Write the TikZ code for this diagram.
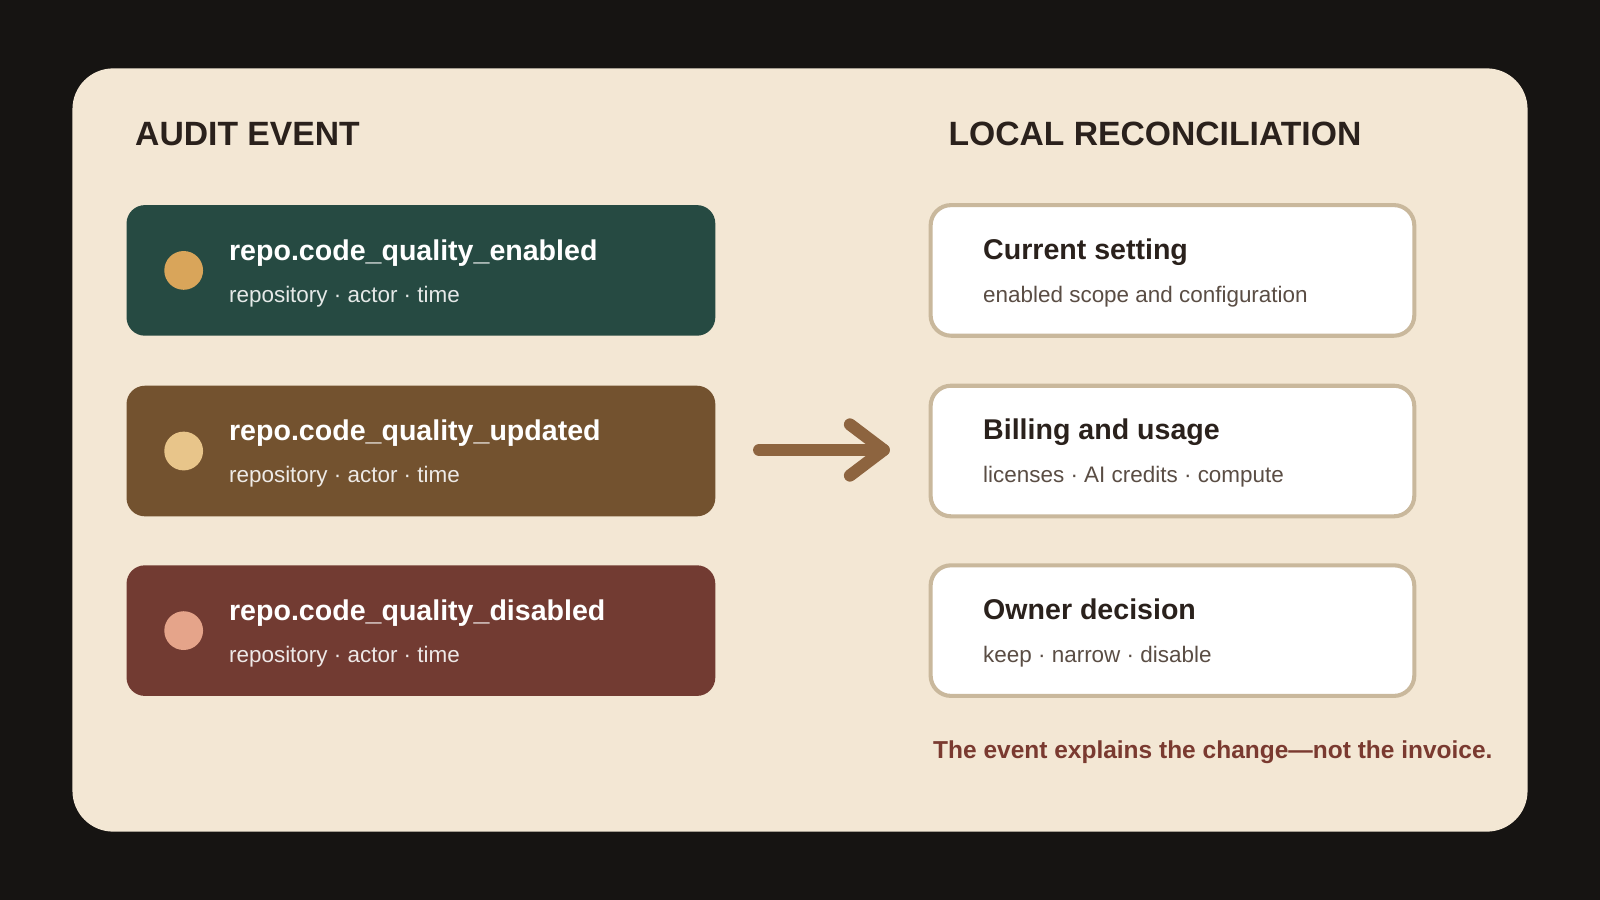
\documentclass[tikz,border=0pt]{standalone}
\usepackage{fontspec}
\setmainfont{Liberation Sans}
\begin{document}
\begin{tikzpicture}[x=1pt,y=-1pt,
  lbox/.style={rounded corners=18pt,draw=none},
  rbox/.style={rounded corners=20pt,draw=bord,line width=4pt,fill=white},
  ttl/.style={anchor=base west,font=\fontsize{28}{30}\selectfont\bfseries},
  sub/.style={anchor=base west,font=\fontsize{22}{24}\selectfont},
  hd/.style={anchor=base west,font=\fontsize{33}{36}\selectfont\bfseries,text=dark}]
\definecolor{bg}{HTML}{161412}
\definecolor{card}{HTML}{F3E7D4}
\definecolor{bord}{HTML}{C9B89C}
\definecolor{dark}{HTML}{2A211C}
\definecolor{gr}{HTML}{5A4D44}
\definecolor{arr}{HTML}{8D643F}
\definecolor{foot}{HTML}{7A3A30}
\useasboundingbox (0,0) rectangle (1568,882);
\fill[bg] (0,0) rectangle (1568,882);
\fill[card,rounded corners=40pt] (71,67) rectangle (1497,815);
\node[hd] (h1) at (129,143) {AUDIT EVENT};
\node[hd] (h2) at (926,143) {LOCAL RECONCILIATION};
\foreach \y/\c/\d/\t [count=\i] in {201/264A42/D9A55A/enabled,378/73522F/E8C58A/updated,554/723B32/E5A48A/disabled}{
  \definecolor{bc}{HTML}{\c}\definecolor{dc}{HTML}{\d}
  \fill[lbox,bc] (124,\y) rectangle (701,\y+128);
  \fill[dc] (180,\y+64) circle (19);
  \node[ttl,text=white] (l\i) at (221,\y+54) {repo.code\_quality\_\t};
  \node[sub,text=white!88!bc] (s\i) at (221,\y+95) {repository · actor · time};
}
\foreach \y/\a/\b [count=\i] in {201/Current setting/enabled scope and configuration,378/Billing and usage/licenses · AI credits · compute,554/Owner decision/keep · narrow · disable}{
  \draw[rbox] (912,\y) rectangle (1386,\y+128);
  \node[ttl,text=dark] (r\i) at (960,\y+53) {\a};
  \node[sub,text=gr] (t\i) at (960,\y+95) {\b};
}
\coordinate (a0) at (744,441); \coordinate (a1) at (866,441);
\draw[arr,line width=12pt,line cap=round,line join=round] (a0) -- (a1);
\draw[arr,line width=12pt,line cap=round,line join=round] (833,416) -- (a1) -- (833,466);
\node[anchor=base west,font=\fontsize{24}{26}\selectfont\bfseries,text=foot] (f) at (911,743) {The event explains the change—not the invoice.};
\end{tikzpicture}
\end{document}
